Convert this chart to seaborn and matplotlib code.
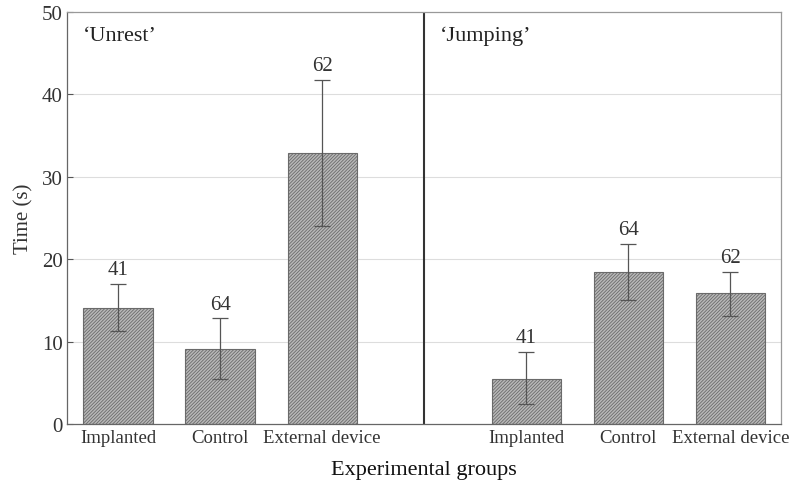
import matplotlib
matplotlib.use("Agg")
import matplotlib.pyplot as plt
import seaborn as sns
import pandas as pd
import numpy as np

# ---- data ----
groups = ["Implanted", "Control", "External device"]
panels = ["\u2018Unrest\u2019", "\u2018Jumping\u2019"]
unrest_mean = [14.1, 9.1, 32.9]
unrest_lower = [11.3, 5.4, 24.0]
unrest_upper = [17.0, 12.8, 41.8]
jumping_mean = [5.5, 18.5, 15.9]
jumping_lower = [2.4, 15.1, 13.1]
jumping_upper = [8.7, 21.9, 18.5]
n_labels = ["41", "64", "62", "41", "64", "62"]
yticks = [0, 10, 20, 30, 40, 50]

positions = [0, 1, 2, 4, 5, 6]
means = unrest_mean + jumping_mean
lowers = unrest_lower + jumping_lower
uppers = unrest_upper + jumping_upper
df = pd.DataFrame({"pos": positions, "time": means,
                   "group": groups + groups})

sns.set_theme(style="white")
plt.rcParams["font.family"] = ["Liberation Serif", "DejaVu Serif"]
plt.rcParams["hatch.color"] = "#5a5a5a"
plt.rcParams["hatch.linewidth"] = 0.6

fig, ax = plt.subplots(figsize=(7.9, 4.85), dpi=100)
fig.subplots_adjust(left=0.085, right=0.989, top=0.973, bottom=0.124)

sns.barplot(data=df, x="pos", y="time", native_scale=True, width=0.68,
            color="#b8b8b8", edgecolor="#6a6a6a", linewidth=0.8,
            errorbar=None, ax=ax, saturation=1)
for p in ax.patches:
    p.set_hatch("//////////")

yerr = np.array([np.array(means) - np.array(lowers),
                 np.array(uppers) - np.array(means)])
ax.errorbar(positions, means, yerr=yerr, fmt="none", ecolor="#555555",
            elinewidth=0.9, capsize=6, capthick=0.9)

for x, up, lab in zip(positions, uppers, n_labels):
    ax.text(x, up + 0.6, lab, ha="center", va="bottom", fontsize=15,
            color="#333333")

ax.set_xlim(-0.5, 6.5)
ax.set_ylim(0, 50)
ax.set_yticks(yticks)
ax.set_yticklabels([str(t) for t in yticks], fontsize=15, color="#444444")
ax.set_xticks(positions)
ax.set_xticklabels(groups + groups, fontsize=13.5, color="#333333")
ax.tick_params(axis="both", direction="in", length=4, width=0.8,
               colors="#555555", labelcolor="#333333", left=True, bottom=True)
ax.tick_params(axis="y", pad=3)
ax.tick_params(axis="x", pad=4)

for y in yticks[1:-1]:
    ax.axhline(y, color="#dddddd", lw=0.8, zorder=0)

ax.axvline(3, color="#333333", lw=1.5)

for side in ["top", "right"]:
    ax.spines[side].set_color("#999999")
    ax.spines[side].set_linewidth(0.9)
for side in ["left", "bottom"]:
    ax.spines[side].set_color("#666666")
    ax.spines[side].set_linewidth(0.9)

ax.text(-0.35, 47.2, panels[0], ha="left", va="center", fontsize=16, color="#222222")
ax.text(3.15, 47.2, panels[1], ha="left", va="center", fontsize=16, color="#222222")

ax.set_ylabel("Time (s)", fontsize=15, color="#333333", labelpad=6)
ax.set_xlabel("Experimental groups", fontsize=16, color="#111111", labelpad=10)

fig.savefig("out.png", dpi=100)
